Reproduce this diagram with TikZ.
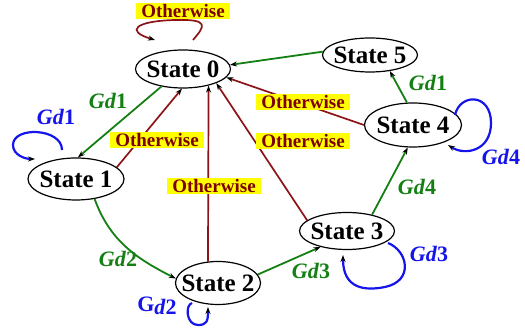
\documentclass[tikz,border=0pt]{standalone}
\usepackage{fontspec}
\setmainfont{Liberation Serif}
\usetikzlibrary{shapes.geometric,arrows.meta,calc}
\definecolor{grn}{RGB}{20,128,20}
\definecolor{blu}{RGB}{20,20,235}
\definecolor{dred}{RGB}{140,20,25}
\definecolor{ltxt}{RGB}{125,0,0}
\definecolor{ylw}{RGB}{255,255,0}
\newcommand{\gdlab}[1]{\textit{Gd}#1}
\begin{document}
\begin{tikzpicture}[x=1pt,y=1pt,
  st/.style={ellipse,draw=black,line width=1.2pt,inner sep=0pt,font=\fontsize{25}{28}\selectfont\bfseries},
  tipb/.style={-{Stealth[length=7pt,width=5pt,color=black]}},
  ge/.style={draw=grn,line width=1.8pt,tipb},
  re/.style={draw=dred,line width=1.7pt,tipb},
  be/.style={draw=blu,line width=2.2pt,tipb},
  ow/.style={fill=ylw,text=ltxt,inner xsep=5pt,inner ysep=1.5pt,font=\fontsize{19}{20}\selectfont\bfseries},
  gl/.style={inner sep=0pt,font=\fontsize{22}{24}\selectfont\bfseries},
]
\useasboundingbox (0,0) rectangle (525,331);

% states
\node[st,minimum width=95pt,minimum height=38pt] (s0) at (183,262) {\makebox[0pt]{State 0}};
\node[st,minimum width=96pt,minimum height=42pt] (s1) at (76,152) {\makebox[0pt]{State 1}};
\node[st,minimum width=85pt,minimum height=43pt] (s2) at (218,48) {\makebox[0pt]{State 2}};
\node[st,minimum width=95pt,minimum height=37pt] (s3) at (347,100) {\makebox[0pt]{State 3}};
\node[st,minimum width=97pt,minimum height=44pt] (s4) at (413,206) {\makebox[0pt]{State 4}};
\node[st,minimum width=95pt,minimum height=34pt] (s5) at (370,276) {\makebox[0pt]{State 5}};

% green transitions
\draw[ge] (s0.219) -- (s1.85);
\draw[ge] (s1.313) to[out=-70,in=153] (s2.174);
\draw[ge] (s2.12) -- (s3.211);
\draw[ge] (s3.33) -- (s4.257);
\draw[ge] (s4.105) -- (s5.321);
\draw[ge] (s5.176) -- (s0.5);

% red transitions
\draw[re] (s4.180) -- (s0.349);
\draw[re] (s3.165) -- (s0.337);
\draw[re] (s2.115.6) -- (s0.327);
\draw[re] (s1.16.7) -- (s0.267.5);

% self loops
\begin{scope}[shift={(s0.center)}]
\draw[re] (10,29) .. controls (22,43) and (27,50) .. (-8,49) .. controls (-48,48) and (-58,38) .. (-28,29);
\end{scope}
\begin{scope}[shift={(s1.center)}]
\draw[be] (-14,29) .. controls (-14,51) and (-63,53) .. (-63,34) .. controls (-63,24) and (-51,20) .. (-41,20);
\end{scope}
\begin{scope}[shift={(s2.center)}]
\draw[be] (-26,-20) .. controls (-33,-22) and (-32,-42) .. (-20,-42) .. controls (-11,-42) and (-10,-38) .. (-10,-24);
\end{scope}
\begin{scope}[shift={(s3.center)}]
\draw[be] (41,-12) .. controls (61,-20) and (67,-50) .. (38,-56) .. controls (18,-60) and (-4,-58) .. (-4,-24);
\end{scope}
\begin{scope}[shift={(s4.center)}]
\draw[be] (42,10) .. controls (47,32) and (78,32) .. (78,2) .. controls (78,-26) and (52,-31) .. (35,-20);
\end{scope}

% Otherwise labels
\node[ow] (o0) at (183,320) {Otherwise};
\node[ow] (o4) at (303,229) {Otherwise};
\node[ow] (o3) at (303,190) {Otherwise};
\node[ow] (o2) at (214,145) {Otherwise};
\node[ow] (o1) at (157,191) {Otherwise};

% Gd labels
\node[gl,text=grn] (g01) at (108,230) {\gdlab{1}};
\node[gl,text=blu] (g11) at (56,214) {\gdlab{1}};
\node[gl,text=grn] (g12) at (118,72) {\gdlab{2}};
\node[gl,text=blu] (g22) at (157,25) {G\raisebox{-3pt}{\textit{d}2}};
\node[gl,text=grn] (g23) at (311,60) {\gdlab{3}};
\node[gl,text=blu] (g33) at (429,77) {\gdlab{3}};
\node[gl,text=grn] (g34) at (417,144) {\gdlab{4}};
\node[gl,text=blu] (g44) at (501,174) {\gdlab{4}};
\node[gl,text=grn] (g45) at (428,248) {\gdlab{1}};
\end{tikzpicture}
\end{document}
